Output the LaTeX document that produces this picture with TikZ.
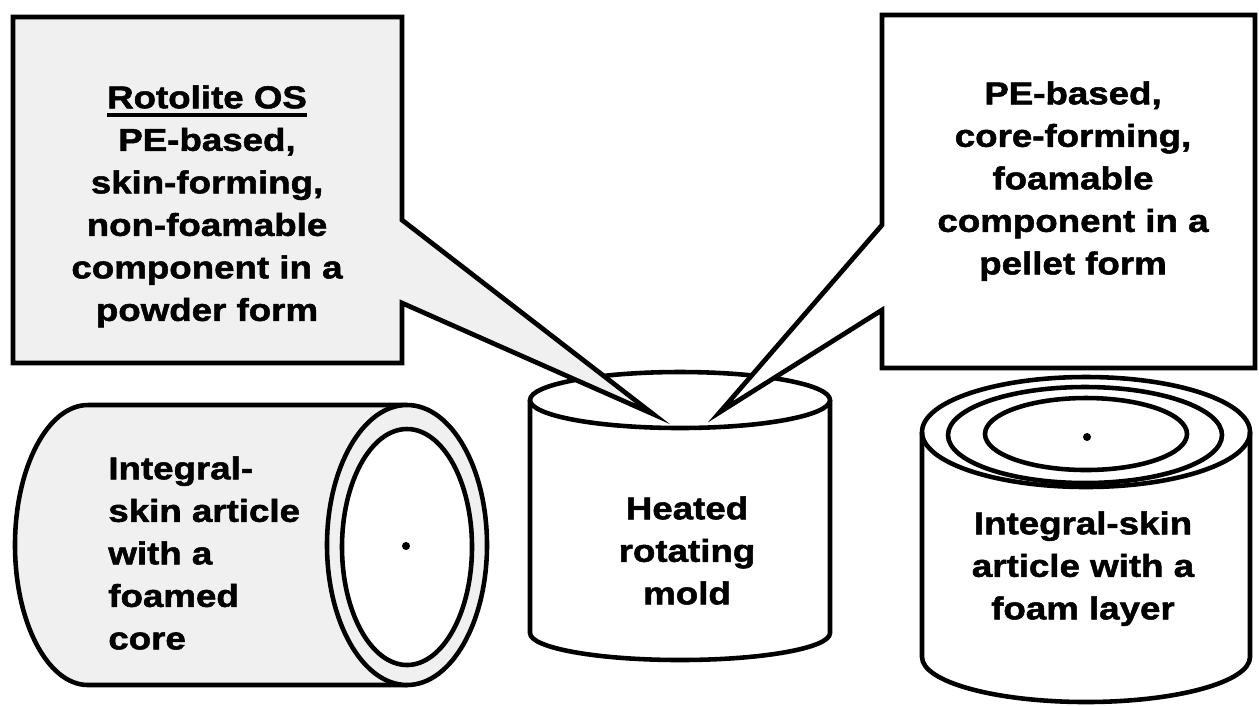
\documentclass[tikz,border=0pt]{standalone}
\usepackage{fontspec}
\newfontfamily\labelfont[FakeStretch=1.16, BoldFeatures={FakeBold=1.6}]{Liberation Sans}
\definecolor{stipple}{gray}{0.94}
% heading with a heavy rule under it
\newcommand{\heavyul}[1]{\leavevmode\vtop{\hbox{#1}\kern2.6pt\hrule height 2.2pt}}

\begin{document}
\begin{tikzpicture}[
    outline/.style={line width=2.7pt, line join=miter},
    rim/.style={line width=2.6pt},
    lbl/.style={font=\labelfont\bfseries\fontsize{18}{24.2}\selectfont, inner sep=0pt, align=center},
  ]
  \useasboundingbox (0, 0) rectangle (25.18, -14.1);

  % lying article: skin with foamed core
  \draw[rim, fill=stipple] (8.14, -8.10) -- (1.76, -8.10) arc (90:270:1.46 and 2.80) -- (8.14, -13.70);
  \draw[rim, fill=stipple] (8.14, -10.90) ellipse (1.60 and 2.80);
  \draw[rim, fill=white] (8.14, -10.94) ellipse (1.30 and 2.36);
  \fill (8.12, -10.92) circle (0.08);

  % the mold
  \draw[rim, fill=white] (10.6, -8.0) -- (10.6, -12.66) arc (180:360:3.0 and 0.54) -- (16.6, -8.0);
  \draw[rim, fill=white] (13.6, -8.0) ellipse (3.0 and 0.56);

  % standing article: skin with foam layer
  \draw[rim, fill=white] (18.44, -8.64) -- (18.44, -13.14) arc (180:360:3.28 and 0.90) -- (25.0, -8.64);
  \draw[rim] (21.72, -8.64) ellipse (3.28 and 1.10);
  \draw[rim] (21.70, -8.70) ellipse (2.74 and 0.96);
  \draw[rim] (21.72, -8.68) ellipse (2.02 and 0.72);
  \fill (21.74, -8.74) circle (0.08);

  % callouts pointing into the mold
  \draw[outline, fill=stipple] (0.26, -0.34) -- (8.04, -0.34) -- (8.04, -4.40) -- (13.06, -8.28)
    -- (8.04, -6.06) -- (8.04, -7.26) -- (0.26, -7.26) -- cycle;
  \draw[outline, fill=white] (17.64, -0.30) -- (25.1, -0.30) -- (25.1, -7.36) -- (17.64, -7.36)
    -- (17.64, -6.20) -- (14.40, -8.24) -- (17.64, -4.50) -- cycle;

  \node[lbl, anchor=north] (powder) at (4.14, -1.70)
    {\heavyul{Rotolite OS}\\ PE-based,\\ skin-forming,\\ non-foamable\\ component in a\\ powder form};
  \node[lbl, anchor=north] (pellet) at (21.46, -1.62)
    {PE-based,\\ core-forming,\\ foamable\\ component in a\\ pellet form};
  \node[lbl, anchor=north] (mold) at (13.74, -9.92) {Heated\\ rotating\\ mold};
  \node[lbl, align=left, anchor=north west] (core) at (2.16, -9.12)
    {Integral-\\ skin article\\ with a\\ foamed\\ core};
  \node[lbl, anchor=north] (layer) at (21.66, -10.22) {Integral-skin\\ article with a\\ foam layer};
\end{tikzpicture}
\end{document}
